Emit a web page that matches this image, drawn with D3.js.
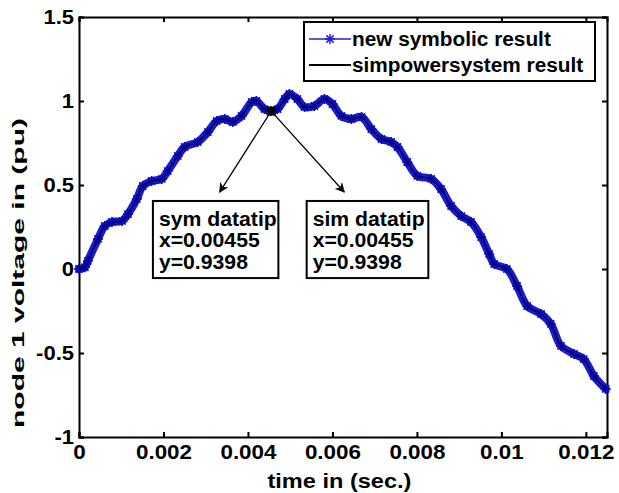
<!DOCTYPE html>
<html>
<head>
<meta charset="utf-8">
<script src="https://cdn.jsdelivr.net/npm/d3@7"></script>
<style>
  body { margin: 0; background: #fff; }
  text { font-family: "Liberation Sans", Arial, sans-serif; font-weight: bold; fill: #000; }
</style>
</head>
<body>
<div id="chart"></div>
<script>
// values
var timeSec = [0, 0.00014, 0.00021, 0.00045, 0.00061, 0.00078, 0.00102, 0.00116, 0.00137, 0.00151,
    0.00172, 0.00196, 0.0021, 0.00234, 0.0025, 0.00281, 0.00305, 0.00326, 0.00345, 0.00364,
    0.00385, 0.00409, 0.0042, 0.00439, 0.00455, 0.0047, 0.00487, 0.00498, 0.00517, 0.00534,
    0.00557, 0.00581, 0.006, 0.00621, 0.00645, 0.00669, 0.00692, 0.00716, 0.00739, 0.00754,
    0.00777, 0.00801, 0.00834, 0.00857, 0.00881, 0.00905, 0.00928, 0.00952, 0.00971, 0.00983,
    0.01013, 0.01037, 0.01061, 0.01094, 0.01117, 0.01141, 0.01172, 0.01195, 0.01219, 0.01247];
var symVoltage = [0, 0.01, 0.048, 0.179, 0.256, 0.28, 0.286, 0.327, 0.417, 0.494,
    0.524, 0.536, 0.583, 0.673, 0.726, 0.756, 0.815, 0.881, 0.893, 0.875,
    0.911, 0.994, 1.0, 0.952, 0.9398, 0.952, 1.012, 1.042, 1.012, 0.964,
    0.97, 1.012, 0.982, 0.911, 0.893, 0.905, 0.833, 0.774, 0.756, 0.726,
    0.637, 0.554, 0.536, 0.476, 0.375, 0.315, 0.28, 0.19, 0.089, 0.03,
    0.0, -0.101, -0.22, -0.268, -0.327, -0.458, -0.506, -0.536, -0.637, -0.714];
// the simpowersystem curve lies on top of the symbolic one
var simVoltage = symVoltage;

var xTicks = [0, 0.002, 0.004, 0.006, 0.008, 0.01, 0.012];
var xTickLabels = ["0", "0.002", "0.004", "0.006", "0.008", "0.01", "0.012"];
var yTicks = [-1, -0.5, 0, 0.5, 1, 1.5];
var yTickLabels = ["-1", "-0.5", "0", "0.5", "1", "1.5"];

var seriesNames = ["new symbolic result", "simpowersystem result"];
var tipPoint = { t: 0.00455, v: 0.9398 };
var tipLines = [["sym datatip", "x=0.00455", "y=0.9398"], ["sim datatip", "x=0.00455", "y=0.9398"]];

var svgWidth = 619;
var svgHeight = 493;
var margin = { top: 17, right: 12, bottom: 56, left: 79 };
var width = svgWidth - margin.left - margin.right;
var height = svgHeight - margin.top - margin.bottom;

var svg = d3.select("#chart")
    .append("svg")
    .attr("width", svgWidth)
    .attr("height", svgHeight);

svg.append("rect").attr("width", svgWidth).attr("height", svgHeight).attr("fill", "#fff");

var chartGroup = svg.append("g")
    .attr("transform", `translate(${margin.left}, ${margin.top})`);

var x = d3.scaleLinear().domain([0, 0.0125]).range([0, width]);
var y = d3.scaleLinear().domain([-1, 1.5]).range([height, 0]);

// stretch text a little so it fills the same width as the picture
function stretch(sel, k) {
    sel.each(function () {
        var w = this.getComputedTextLength();
        d3.select(this).attr("textLength", w * k).attr("lengthAdjust", "spacingAndGlyphs");
    });
}

// axes, matlab style: inward ticks on all sides
var xAxis = d3.axisBottom(x).tickValues(xTicks).tickFormat((d, i) => xTickLabels[i]).tickSize(-5).tickPadding(8);
var yAxis = d3.axisLeft(y).tickValues(yTicks).tickFormat((d, i) => yTickLabels[i]).tickSize(-5).tickPadding(5);

var gx = chartGroup.append("g").attr("transform", `translate(0, ${height})`).call(xAxis);
var gy = chartGroup.append("g").call(yAxis);
chartGroup.append("g").call(d3.axisTop(x).tickValues(xTicks).tickFormat("").tickSize(-5));
chartGroup.append("g").attr("transform", `translate(${width}, 0)`)
    .call(d3.axisRight(y).tickValues(yTicks).tickFormat("").tickSize(-5));

chartGroup.selectAll(".domain").attr("stroke", "#000").attr("stroke-width", 2);
chartGroup.selectAll(".tick line").attr("stroke", "#000").attr("stroke-width", 2);
gx.selectAll("text").attr("font-size", "20px").call(stretch, 1.12);
gy.selectAll("text").attr("font-size", "20px").call(stretch, 1.1);

// curves
var symData = timeSec.map((t, i) => ({ t: t, v: symVoltage[i] }));
var simData = timeSec.map((t, i) => ({ t: t, v: simVoltage[i] }));

var line = d3.line()
    .x(d => x(d.t))
    .y(d => y(d.v))
    .curve(d3.curveCatmullRom);

chartGroup.append("path")
    .datum(symData)
    .attr("fill", "none")
    .attr("stroke", "#1a1ad0")
    .attr("stroke-width", 8)
    .attr("stroke-linecap", "round")
    .attr("d", line);

var starPath = "M-5,0H5M0,-5V5M-3.6,-3.6L3.6,3.6M-3.6,3.6L3.6,-3.6";

chartGroup.selectAll(".star")
    .data(symData)
    .enter()
    .append("path")
    .attr("class", "star")
    .attr("d", starPath)
    .attr("transform", d => `translate(${x(d.t)}, ${y(d.v)})`)
    .attr("stroke", "#0808b8")
    .attr("stroke-width", 1.6)
    .attr("fill", "none");

chartGroup.append("path")
    .datum(simData)
    .attr("fill", "none")
    .attr("stroke", "#000048")
    .attr("stroke-width", 1.5)
    .attr("d", line);

// data tip marker and arrows
var defs = svg.append("defs");
defs.append("marker")
    .attr("id", "arrow")
    .attr("viewBox", "0 -5 10 10")
    .attr("refX", 9)
    .attr("refY", 0)
    .attr("markerWidth", 10)
    .attr("markerHeight", 10)
    .attr("markerUnits", "userSpaceOnUse")
    .attr("orient", "auto")
    .append("path")
    .attr("d", "M0,-5L10,0L0,5L3,0Z")
    .attr("fill", "#000");

var arrowEnds = [{ t: 0.00333, v: 0.458 }, { t: 0.00628, v: 0.458 }];
chartGroup.selectAll(".arrow")
    .data(arrowEnds)
    .enter()
    .append("line")
    .attr("x1", x(tipPoint.t))
    .attr("y1", y(tipPoint.v))
    .attr("x2", d => x(d.t))
    .attr("y2", d => y(d.v))
    .attr("stroke", "#000")
    .attr("stroke-width", 1.3)
    .attr("marker-end", "url(#arrow)");

chartGroup.append("rect")
    .attr("x", x(tipPoint.t) - 4.5)
    .attr("y", y(tipPoint.v) - 4.5)
    .attr("width", 9)
    .attr("height", 9)
    .attr("fill", "#000");

// data tip boxes
var tipBoxes = [{ t0: 0.00175, t1: 0.00472 }, { t0: 0.00539, t1: 0.00827 }];
var boxTop = 0.405;
var boxBottom = -0.054;

tipBoxes.forEach(function (b, i) {
    var g = chartGroup.append("g");
    g.append("rect")
        .attr("x", x(b.t0))
        .attr("y", y(boxTop))
        .attr("width", x(b.t1) - x(b.t0))
        .attr("height", y(boxBottom) - y(boxTop))
        .attr("fill", "#fff")
        .attr("stroke", "#000")
        .attr("stroke-width", 2);
    g.selectAll("text")
        .data(tipLines[i])
        .enter()
        .append("text")
        .attr("x", x(b.t0) + 6)
        .attr("y", (d, j) => y(boxTop) + 25 + j * 21.5)
        .attr("font-size", "20px")
        .text(d => d)
        .call(stretch, 1.06);
});

// legend
var legend = svg.append("g").attr("transform", "translate(304, 22)");
legend.append("rect")
    .attr("width", 291)
    .attr("height", 59)
    .attr("fill", "#fff")
    .attr("stroke", "#000")
    .attr("stroke-width", 2);

legend.append("line")
    .attr("x1", 5).attr("x2", 47).attr("y1", 17).attr("y2", 17)
    .attr("stroke", "#2020e0").attr("stroke-width", 1.5);
legend.append("path")
    .attr("d", starPath)
    .attr("transform", "translate(26, 17)")
    .attr("stroke", "#2020e0")
    .attr("stroke-width", 1.5);
legend.append("line")
    .attr("x1", 5).attr("x2", 47).attr("y1", 43).attr("y2", 43)
    .attr("stroke", "#000").attr("stroke-width", 2);

legend.selectAll(".legText")
    .data(seriesNames)
    .enter()
    .append("text")
    .attr("class", "legText")
    .attr("x", 48)
    .attr("y", (d, i) => 24 + i * 26)
    .attr("font-size", "20px")
    .text(d => d)
    .call(stretch, 1.04);

// axis labels
var xLabel = svg.append("text")
    .attr("x", margin.left + x(0.006) + 7)
    .attr("y", 488)
    .attr("text-anchor", "middle")
    .attr("font-size", "20px")
    .text("time in (sec.)");
xLabel.attr("textLength", 144).attr("lengthAdjust", "spacingAndGlyphs");

svg.append("text")
    .attr("transform", "translate(24, 273) rotate(-90)")
    .attr("text-anchor", "middle")
    .attr("font-size", "16px")
    .attr("textLength", 310)
    .attr("lengthAdjust", "spacingAndGlyphs")
    .text("node 1 voltage in (pu)");
</script>
</body>
</html>
